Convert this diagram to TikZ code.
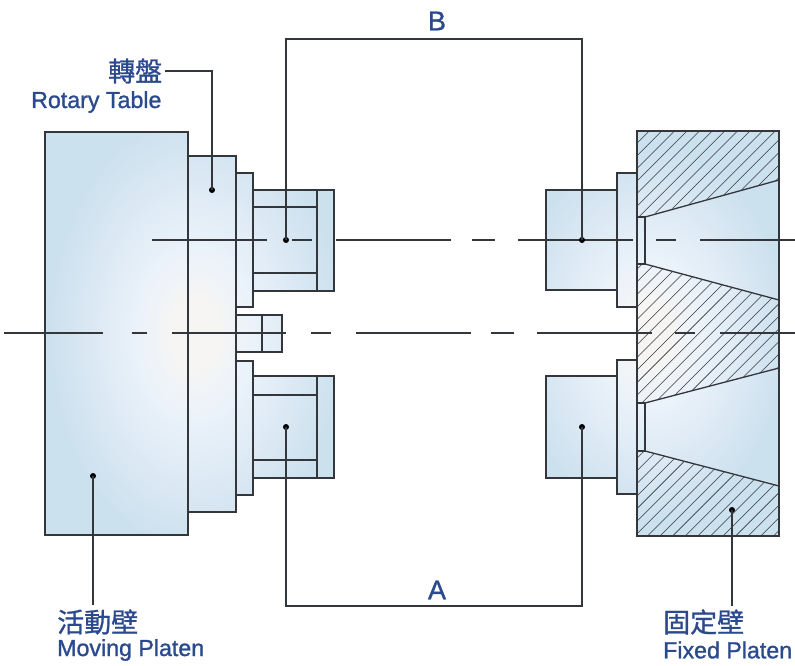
\documentclass[tikz,border=0pt]{standalone}
\usepackage{fontspec}
\setmainfont{Liberation Sans}
\newfontfamily\cjkfont[FakeBold=1]{Noto Sans CJK TC}
\newfontfamily\enfont[FakeBold=1.2]{Liberation Sans}
\definecolor{ink}{HTML}{33373C}
\definecolor{labelblue}{HTML}{2B4A8E}
\definecolor{edgeblue}{HTML}{CCE1EE}
\definecolor{midblue}{HTML}{DCE9F4}
\definecolor{paleblue}{HTML}{EAF2FA}
\definecolor{warmcore}{HTML}{F6F5F3}
\pgfdeclareradialshading{platenglow}{\pgfpoint{0bp}{0bp}}{color(0bp)=(warmcore); color(2bp)=(warmcore); color(5bp)=(paleblue); color(8.8bp)=(midblue); color(12.5bp)=(edgeblue); color(50bp)=(edgeblue)}
\tikzset{
  part/.style={draw=ink,line width=1.3pt},
  inner/.style={draw=ink,line width=1.2pt},
  centre/.style={draw=ink,line width=1.1pt},
  leader/.style={draw=ink,line width=1.15pt},
  hatchline/.style={draw=ink,line width=0.55pt},
  dotmark/.style={circle,fill=black,inner sep=0pt,minimum size=6pt},
  cjklabel/.style={text=labelblue,font=\cjkfont\fontsize{27}{28}\selectfont,inner sep=0pt,anchor=west},
  enlabel/.style={text=labelblue,font=\enfont\fontsize{23.2}{24}\selectfont,inner sep=0pt,anchor=west},
  letterlabel/.style={text=labelblue,font=\enfont\fontsize{27}{28}\selectfont,inner sep=0pt}
}
\newcommand{\leftshape}{(45,132) rectangle (188,535) (188,156) rectangle (236,512) (236,173) rectangle (253,307) (236,361) rectangle (253,495) (253,190) rectangle (334,291) (253,376) rectangle (334,478) (236,315) rectangle (282,352)}
\newcommand{\rightshape}{(546,190) rectangle (617,290) (546,376) rectangle (617,478) (617,173) rectangle (637,307) (617,360) rectangle (637,494) (637,131) rectangle (779,536)}
\begin{document}
\begin{tikzpicture}[x=1pt,y=-1pt]
\useasboundingbox (0,0) rectangle (795,666);
% gradients
\begin{scope}
  \clip \leftshape;
  \shade[shading=platenglow] (195,333) ellipse (290 and 430);
\end{scope}
\begin{scope}
  \clip \rightshape;
  \shade[shading=platenglow] (650,333) ellipse (270 and 370);
\end{scope}
% hatching
\begin{scope}
  \clip (637,131) -- (779,131) -- (779,180) -- (645,216) -- (637,216) -- cycle
        (637,264) -- (645,264) -- (779,300) -- (779,368) -- (645,403) -- (637,403) -- cycle
        (637,451) -- (645,451) -- (779,486) -- (779,536) -- (637,536) -- cycle;
  \foreach \k in {0,...,62} {
    \draw[hatchline] ({630+\k*12.6},125) -- ({630+\k*12.6-430},555);
  }
\end{scope}
% left parts
\draw[part] (45,132) rectangle (188,535);
\draw[part] (188,156) rectangle (236,512);
\draw[part] (236,173) rectangle (253,307);
\draw[part] (236,361) rectangle (253,495);
\draw[part] (253,190) rectangle (317,291);
\draw[part] (317,190) rectangle (334,291);
\draw[inner] (253,207) -- (317,207) (253,273) -- (317,273);
\draw[part] (253,376) rectangle (317,478);
\draw[part] (317,376) rectangle (334,478);
\draw[inner] (253,395) -- (317,395) (253,460) -- (317,460);
\draw[part] (236,315) rectangle (262,352);
\draw[part] (262,315) rectangle (282,352);
% right parts
\draw[part] (546,190) rectangle (617,290);
\draw[part] (546,376) rectangle (617,478);
\draw[part] (617,173) rectangle (637,307);
\draw[part] (617,360) rectangle (637,494);
\draw[part] (637,131) rectangle (779,536);
\draw[part] (637,217) -- (645,217) -- (645,264) -- (637,264);
\draw[part] (637,403) -- (645,403) -- (645,451) -- (637,451);
\draw[part] (645,217) -- (779,180) (645,264) -- (779,300);
\draw[part] (645,403) -- (779,368) (645,451) -- (779,486);
% centre lines
\foreach \a/\b in {152/267,292/312,336/451,472/495,518/633,656/676,700/795}
  \draw[centre] (\a,240) -- (\b,240);
\foreach \a/\b in {4/103,132/147,172/286,311/331,356/471,491/514,537/652,675/695,720/795}
  \draw[centre] (\a,333) -- (\b,333);
% dots
\node[dotmark] (rotdot) at (212,190) {};
\node[dotmark] (bleft) at (286,240) {};
\node[dotmark] (bright) at (582,240) {};
\node[dotmark] (aleft) at (286,427) {};
\node[dotmark] (aright) at (582,427) {};
\node[dotmark] (movdot) at (93,476) {};
\node[dotmark] (fixdot) at (732,510) {};
% free ends
\coordinate (rotend) at (165,71);
\coordinate (movend) at (93,605);
\coordinate (fixend) at (732,606);
\coordinate (btl) at (286,39);
\coordinate (btr) at (582,39);
\coordinate (abl) at (286,606);
\coordinate (abr) at (582,606);
% leaders
\draw[leader] (rotdot.center) -- (212,71) -- (rotend);
\draw[leader] (movdot.center) -- (movend);
\draw[leader] (fixdot.center) -- (fixend);
\draw[leader] (bleft.center) -- (btl) -- (btr) -- (bright.center);
\draw[leader] (aleft.center) -- (abl) -- (abr) -- (aright.center);
% labels
\node[letterlabel] (blabel) at (437,21) {B};
\node[letterlabel] (alabel) at (437,590) {A};
\node[cjklabel] (rotzh) at (108,71) {轉盤};
\node[enlabel] (roten) at (31,102) {Rotary Table};
\node[cjklabel] (movzh) at (57,622) {活動壁};
\node[enlabel] (moven) at (57,650) {Moving Platen};
\node[cjklabel] (fixzh) at (663,622) {固定壁};
\node[enlabel] (fixen) at (663,650) {Fixed Platen};
\end{tikzpicture}
\end{document}
